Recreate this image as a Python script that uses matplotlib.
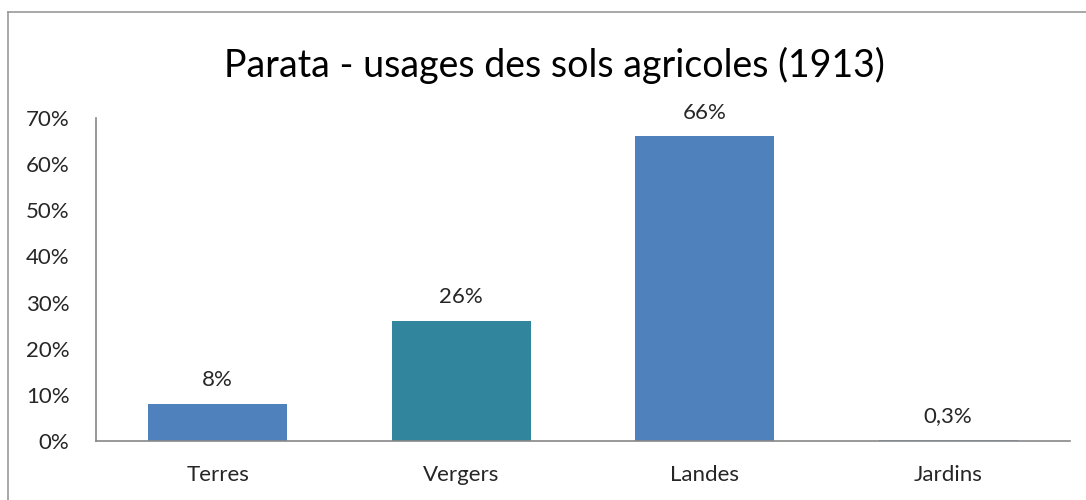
import matplotlib.pyplot as plt
from matplotlib.lines import Line2D

categories = ["Terres", "Vergers", "Landes", "Jardins"]
values = [0.08, 0.26, 0.66, 0.003]
value_labels = ["8%", "26%", "66%", "0,3%"]
bar_colors = ["#4F81BD", "#31859C", "#4F81BD", "#6F95C8"]
yticks = [0, 0.1, 0.2, 0.3, 0.4, 0.5, 0.6, 0.7]

plt.rcParams["font.family"] = ["Lato", "DejaVu Sans"]

fig = plt.figure(figsize=(10.86, 5.0), dpi=100)
ax = fig.add_axes([96 / 1086, 59 / 500, 974 / 1086, 323 / 500])

x = range(len(categories))
ax.bar(x, values, width=0.57, color=bar_colors)
for i, (v, lab) in enumerate(zip(values, value_labels)):
    ax.text(i, v + 0.03, lab, ha="center", va="bottom", fontsize=16, color="#262626")

ax.set_xlim(-0.5, 3.5)
ax.set_ylim(0, 0.70)
ax.set_yticks(yticks)
ax.set_yticklabels([f"{int(round(t * 100))}%" for t in yticks])
ax.set_xticks(list(x))
ax.set_xticklabels(categories)
ax.tick_params(axis="both", length=0, labelsize=16, labelcolor="#262626")
ax.tick_params(axis="x", pad=17)
ax.tick_params(axis="y", pad=19)
for s in ["top", "right"]:
    ax.spines[s].set_visible(False)
for s in ["left", "bottom"]:
    ax.spines[s].set_color("#888888")
    ax.spines[s].set_linewidth(1.2)

fig.text(554 / 1086, 1 - 65 / 500, "Parata - usages des sols agricoles (1913)",
         ha="center", va="center", fontsize=27, color="black")

# chart frame
fig.add_artist(Line2D([8 / 1086, 1], [1 - 12 / 500, 1 - 12 / 500], color="#999999", lw=1.2))
fig.add_artist(Line2D([8 / 1086, 8 / 1086], [0, 1 - 12 / 500], color="#999999", lw=1.2))

fig.savefig("out.png", dpi=100)
